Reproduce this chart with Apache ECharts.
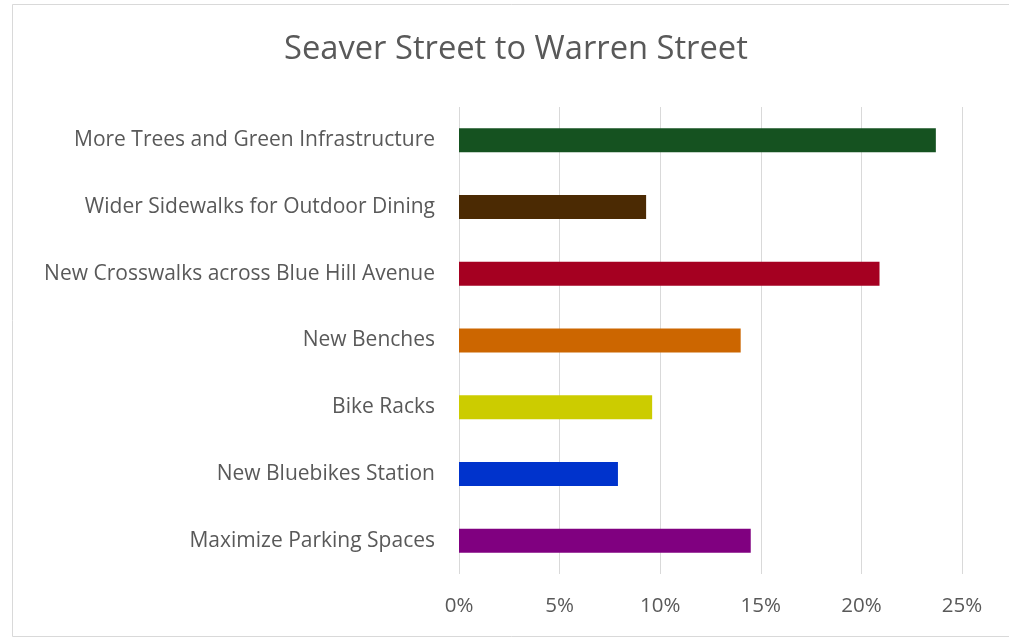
<!DOCTYPE html>
<html>
<head>
<meta charset="utf-8">
<script src="https://cdn.jsdelivr.net/npm/echarts@6/dist/echarts.min.js"></script>
<style>
  html, body { margin: 0; padding: 0; background: #ffffff; }
  #chart { width: 1009px; height: 638px; }
</style>
</head>
<body>
<div id="chart"></div>
<script>
// Survey priorities, share of responses
const categories = [
  'More Trees and Green Infrastructure',
  'Wider Sidewalks for Outdoor Dining',
  'New Crosswalks across Blue Hill Avenue',
  'New Benches',
  'Bike Racks',
  'New Bluebikes Station',
  'Maximize Parking Spaces'
];
const shares = [0.237, 0.093, 0.209, 0.140, 0.096, 0.079, 0.145];
const barColors = ['#155220', '#4b2a03', '#a50021', '#cc6600', '#cccc00', '#0033cc', '#800080'];
const tickValues = [0, 0.05, 0.10, 0.15, 0.20, 0.25];

const chart = echarts.init(document.getElementById('chart'), null, { renderer: 'canvas' });
const fontFamily = '"Open Sans", Lato, sans-serif';

chart.setOption({
  backgroundColor: '#ffffff',
  animation: false,
  title: {
    text: 'Seaver Street to Warren Street',
    left: 279,
    top: 28,
    textStyle: { fontFamily, fontSize: 32.7, fontWeight: 'normal', color: '#595959' }
  },
  graphic: [{
    type: 'rect',
    shape: { x: 12.5, y: 4.5, width: 1010, height: 632 },
    style: { fill: 'none', stroke: '#d9d9d9', lineWidth: 1 },
    silent: true
  }],
  grid: { left: 459, right: 47, top: 107, bottom: 64, containLabel: false },
  xAxis: {
    type: 'value',
    min: tickValues[0],
    max: tickValues[tickValues.length - 1],
    interval: 0.05,
    axisLine: { show: false },
    axisTick: { show: false },
    splitLine: { show: true, lineStyle: { color: '#d9d9d9', width: 1 } },
    axisLabel: {
      margin: 22,
      fontFamily, fontSize: 20.5, color: '#595959',
      formatter: v => Math.round(v * 100) + '%'
    }
  },
  yAxis: {
    type: 'category',
    inverse: true,
    data: categories,
    axisLine: { show: false },
    axisTick: { show: false },
    axisLabel: { margin: 24, fontFamily, fontSize: 21, color: '#595959', padding: [6, 0, 0, 0] }
  },
  series: [{
    type: 'bar',
    barWidth: 24,
    data: shares.map((v, i) => ({ value: v, itemStyle: { color: barColors[i] } }))
  }]
});
</script>
</body>
</html>
